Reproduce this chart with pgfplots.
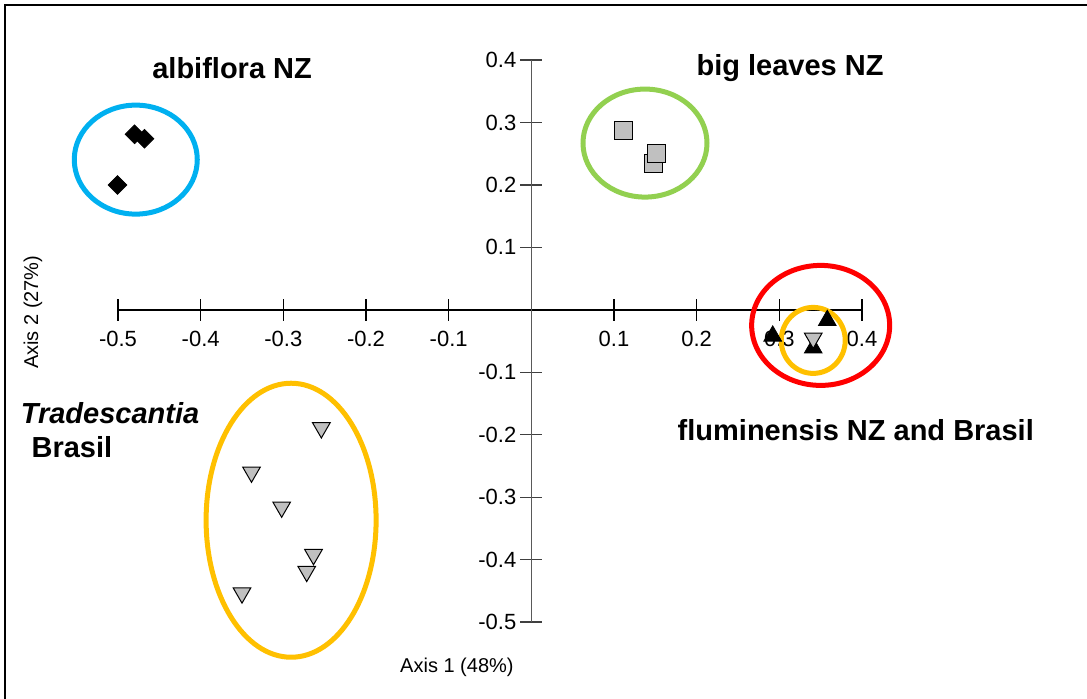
\documentclass[border=0pt]{standalone}
\usepackage{fontspec}
\setmainfont{Liberation Sans}
\usepackage{pgfplots}
\pgfplotsset{compat=1.18}
\definecolor{cblue}{HTML}{00B0F0}
\definecolor{cgreen}{HTML}{92D050}
\definecolor{cred}{HTML}{FF0000}
\definecolor{corange}{HTML}{FFC000}
\definecolor{cgray}{HTML}{C0C0C0}
\begin{document}
\begin{tikzpicture}
\useasboundingbox (-59pt,-38pt) rectangle (484.5pt,311pt);
\draw[line width=1pt] (-56.5pt,-40pt) -- (-56.5pt,308.5pt) -- (490pt,308.5pt);
\begin{axis}[
  at={(0pt,0pt)}, anchor=south west,
  scale only axis, width=372pt, height=281pt,
  xmin=-0.5, xmax=0.4, ymin=-0.5, ymax=0.4,
  axis lines=middle,
  x axis line style={-, line width=0.75pt, black},
  y axis line style={-, line width=0.75pt, black!65},
  clip=false,
  xtick={-0.5,-0.4,-0.3,-0.2,-0.1,0.1,0.2,0.3,0.4},
  xticklabels={-0.5,-0.4,-0.3,-0.2,-0.1,0.1,0.2,0.3,0.4},
  ytick={-0.5,-0.4,-0.3,-0.2,-0.1,0.1,0.2,0.3,0.4},
  yticklabels={-0.5,-0.4,-0.3,-0.2,-0.1,0.1,0.2,0.3,0.4},
  tick align=center, major tick length=11pt,
  x tick style={black, line width=0.6pt},
  y tick style={black!75, line width=0.6pt},
  ticklabel style={font=\fontsize{11}{13}\selectfont},
  xticklabel style={yshift=-1.5pt},
  yticklabel style={xshift=1.5pt},
]
% ellipses
\draw[cblue, line width=2.5pt] (axis cs:-0.4785,0.2405) ellipse [x radius=30.75pt, y radius=27.25pt];
\draw[cgreen, line width=2.5pt] (axis cs:0.1375,0.267) ellipse [x radius=31pt, y radius=27pt];
\draw[cred, line width=2.5pt] (axis cs:0.350,-0.025) ellipse [x radius=34.5pt, y radius=30pt];
\draw[corange, line width=2.5pt] (axis cs:0.341,-0.049) ellipse [x radius=16pt, y radius=16.5pt];
\draw[corange, line width=2.5pt] (axis cs:-0.2906,-0.337) ellipse [x radius=42.5pt, y radius=68.5pt];
% albiflora NZ
\addplot[only marks, mark=square*, mark size=3.3pt, mark options={rotate=45, fill=black, draw=black}]
  coordinates {(-0.480,0.281) (-0.468,0.274) (-0.5006,0.200)};
% big leaves NZ
\addplot[only marks, mark=square*, mark size=4.5pt, mark options={fill=cgray, draw=black, line width=0.6pt}]
  coordinates {(0.1119,0.2865) (0.1474,0.2345) (0.1518,0.2506)};
% fluminensis NZ
\addplot[only marks, mark=triangle*, mark size=5.1pt, mark options={fill=black, draw=black}]
  coordinates {(0.292,-0.042) (0.358,-0.017) (0.341,-0.061)};
% fluminensis Brasil
\addplot[only marks, mark=triangle*, mark size=5.1pt, mark options={rotate=180, fill=cgray, draw=black, line width=0.5pt}]
  coordinates {(0.341,-0.0455)};
% Tradescantia Brasil
\addplot[only marks, mark=triangle*, mark size=5.1pt, mark options={rotate=180, fill=cgray, draw=black, line width=0.5pt}]
  coordinates {(-0.254,-0.189) (-0.3385,-0.260) (-0.302,-0.316) (-0.2635,-0.392) (-0.2717,-0.419) (-0.350,-0.4535)};
% labels
\node[font=\fontsize{14.5}{17}\selectfont\bfseries] at (axis cs:-0.362,0.387) {albiflora NZ};
\node[font=\fontsize{14.5}{17}\selectfont\bfseries] at (axis cs:0.313,0.387) {big leaves NZ};
\node[font=\fontsize{14.5}{17}\selectfont\bfseries] at (axis cs:0.3925,-0.193) {fluminensis NZ and Brasil};
\node[font=\fontsize{14.5}{17}\selectfont\bfseries\itshape, anchor=west, inner sep=0pt] at (axis cs:-0.618,-0.166) {Tradescantia};
\node[font=\fontsize{14.5}{17}\selectfont\bfseries, anchor=west, inner sep=0pt] at (axis cs:-0.605,-0.220) {Brasil};
\node[font=\fontsize{10}{12}\selectfont, rotate=90] at (axis cs:-0.603,-0.004) {Axis 2 (27\%)};
\node[font=\fontsize{10}{12}\selectfont] at (axis cs:-0.090,-0.573) {Axis 1 (48\%)};
\end{axis}
\end{tikzpicture}
\end{document}
